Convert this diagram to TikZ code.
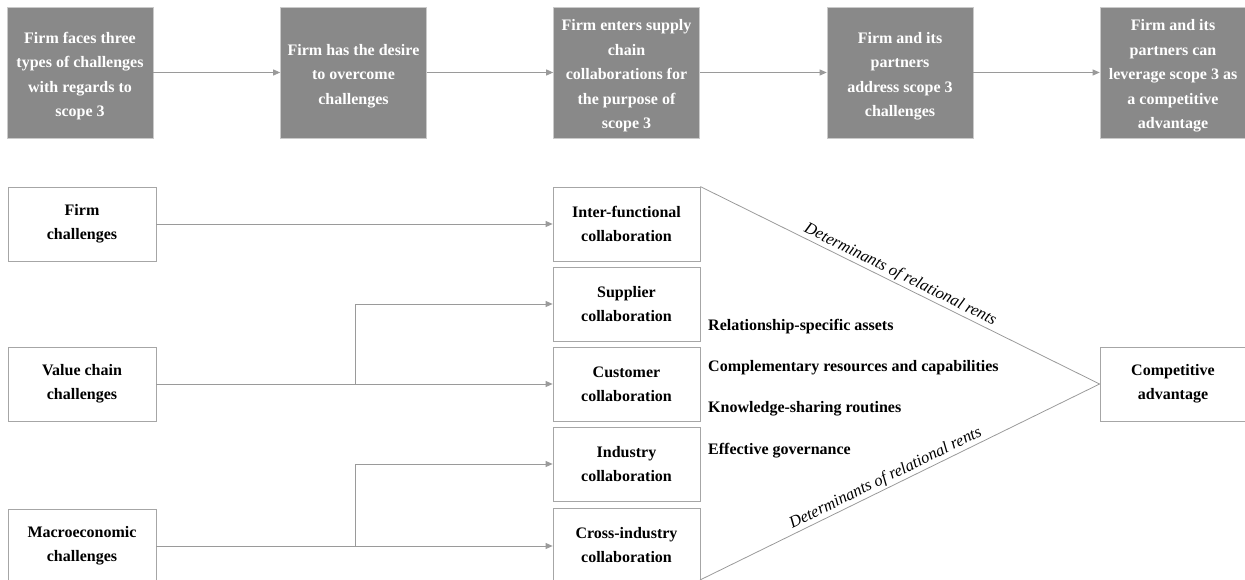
\documentclass[tikz,border=0pt]{standalone}
\usepackage{fontspec}
\setmainfont{Liberation Serif}
\usetikzlibrary{arrows.meta,calc}
\definecolor{boxfill}{HTML}{898989}
\definecolor{edge}{HTML}{A6A6A6}
\definecolor{wire}{HTML}{9A9A9A}
\begin{document}
\begin{tikzpicture}[x=1pt,y=-1pt,
  stage/.style={fill=boxfill,draw=edge!60,line width=0.6pt,minimum width=146pt,minimum height=131pt,inner sep=0pt},
  stagetext/.style={text=white,font=\fontsize{16}{24.5}\selectfont\bfseries,align=center,inner sep=0pt},
  cbox/.style={draw=edge,line width=0.8pt,fill=white,minimum width=147pt,minimum height=74pt,
    font=\fontsize{16}{24}\selectfont\bfseries,align=center,inner sep=2pt},
  arr/.style={draw=wire,line width=0.8pt,-{Triangle[length=7pt,width=6pt]}},
  edgeline/.style={draw=wire,line width=0.8pt},
  rent/.style={font=\fontsize{16.5}{18}\selectfont\itshape,sloped,above,inner sep=1.5pt},
  item/.style={font=\fontsize{16}{18}\selectfont\bfseries,anchor=west,inner sep=0pt}]
\useasboundingbox (0,0) rectangle (1245,580);

% process stages along the top: box, then its caption set a little below centre
\node[stage] (s1) at (80,72.5) {};
\node[stage] (s2) at (353.5,72.5) {};
\node[stage] (s3) at (626.5,72.5) {};
\node[stage] (s4) at (900,72.5) {};
\node[stage] (s5) at (1173,72.5) {};
\node[stagetext] (t1) at ($(s1)+(0,3.5)$) {Firm faces three\\types of challenges\\with regards to\\scope 3};
\node[stagetext] (t2) at ($(s2)+(0,3.5)$) {Firm has the desire\\to overcome\\challenges};
\node[stagetext] (t3) at ($(s3)+(0,3.5)$) {Firm enters supply\\chain\\collaborations for\\the purpose of\\scope 3};
\node[stagetext] (t4) at ($(s4)+(0,3.5)$) {Firm and its\\partners\\address scope 3\\challenges};
\node[stagetext] (t5) at ($(s5)+(0,3.5)$) {Firm and its\\partners can\\leverage scope 3 as\\a competitive\\advantage};
\draw[arr] (s1) -- (s2);
\draw[arr] (s2) -- (s3);
\draw[arr] (s3) -- (s4);
\draw[arr] (s4) -- (s5);

% challenge types
\node[cbox,minimum width=148pt] (firm) at (82,224) {Firm\\challenges};
\node[cbox,minimum width=148pt] (vc) at (82,384) {Value chain\\challenges};
\node[cbox,minimum width=148pt] (macro) at (82,546) {Macroeconomic\\challenges};

% collaboration types
\node[cbox] (inter) at (626.5,224) {Inter-functional\\collaboration};
\node[cbox] (sup) at (626.5,304) {Supplier\\collaboration};
\node[cbox] (cust) at (626.5,384) {Customer\\collaboration};
\node[cbox] (ind) at (626.5,464) {Industry\\collaboration};
\node[cbox] (cross) at (626.5,545) {Cross-industry\\collaboration};

% outcome
\node[cbox,minimum width=146pt] (comp) at (1173,384) {Competitive\\advantage};

% connectors from challenges to collaborations
\coordinate (b1) at (355,384);
\coordinate (b2) at (355,546);
\draw[arr] (firm) -- (inter);
\draw[arr] (vc) -- (cust);
\draw[arr] (b1) |- (sup);
\draw[arr] (macro.east) -- (cross.west |- macro.east);
\draw[arr] (b2) |- (ind);

% determinants wedge
\coordinate (tTop) at (inter.north east);
\coordinate (tBot) at (700,580);
\draw[edgeline] (tTop) -- node[rent,pos=0.49] {Determinants of relational rents} (comp.west);
\draw[edgeline] (tBot) -- node[rent,pos=0.475] {Determinants of relational rents} (comp.west);

\node[item] (d1) at (708,327) {Relationship-specific assets};
\node[item] (d2) at (708,368) {Complementary resources and capabilities};
\node[item] (d3) at (708,409) {Knowledge-sharing routines};
\node[item] (d4) at (708,451) {Effective governance};
\end{tikzpicture}
\end{document}
